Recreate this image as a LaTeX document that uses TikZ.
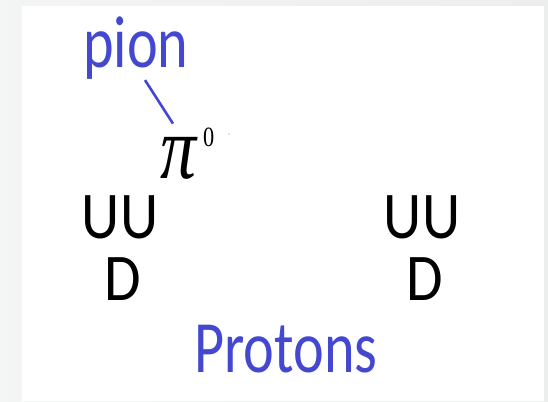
\documentclass[tikz,border=0pt]{standalone}
\usepackage{fontspec}
\usepackage{xcolor}
\newfontfamily\tagfont[FakeStretch=0.79]{Carlito}
\newfontfamily\quarkfont[FakeStretch=0.89]{Carlito}
\newfontfamily\greekfont[FakeStretch=0.8]{Liberation Serif}
\definecolor{tagblue}{RGB}{68,72,208}
\definecolor{pagegray}{RGB}{236,238,238}
\tikzset{
  tag/.style     = {inner sep=0pt, anchor=base, text=tagblue,
                    font={\tagfont\fontsize{74}{80}\selectfont}},
  quark/.style   = {inner sep=0pt, anchor=base,
                    font={\quarkfont\fontsize{67}{72}\selectfont}},
  greek/.style   = {inner sep=0pt, anchor=base,
                    font={\greekfont\itshape\fontsize{90}{92}\selectfont}},
  pointer/.style = {draw=tagblue, line width=2.6pt},
}

\begin{document}
\begin{tikzpicture}[x=1bp, y=-1bp]
  % page
  \fill[left color=pagegray!60, right color=pagegray] (0,0) rectangle (548,401);
  \fill[white] (21.5,5.5) rectangle (544,401);
  \useasboundingbox (0,0) rectangle (548,401);

  % pion label
  \node[tag] (pion) at (136,67) {pion};
  \node[greek] (pizero) at (178,178) {π};
  \node[inner sep=0pt, anchor=base west,
        font={\greekfont\fontsize{28}{30}\selectfont}] (zero) at (203,146) {0};
  \fill[gray] (229,134) circle (0.7);
  \draw[pointer] ([shift={(9,1)}]pion.south) -- ([shift={(-5,-13)}]pizero.north);

  % quarks of the two protons
  \foreach \i/\x in {1/120, 2/422} {
    \node[quark] (uu\i) at (\x,238) {UU};
    \node[quark] (d\i) at (\x+3,300) {D};
  }

  \node[tag] (protons) at (286,372) {Protons};
\end{tikzpicture}
\end{document}
